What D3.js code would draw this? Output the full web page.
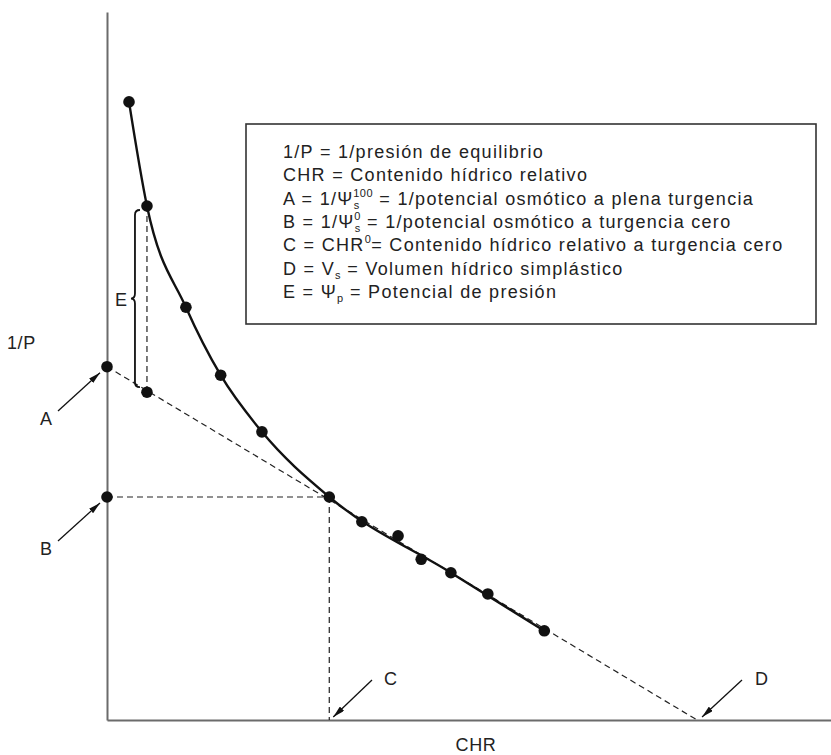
<!DOCTYPE html>
<html>
<head>
<meta charset="utf-8">
<script src="https://cdn.jsdelivr.net/npm/d3@7"></script>
<style>
  html, body { margin: 0; padding: 0; background: #fff; }
  svg { display: block; font-family: "Liberation Sans", Arial, Helvetica, sans-serif; }
</style>
</head>
<body>
<svg id="chart" width="831" height="755"></svg>
<script>
// ---------- data (arbitrary units) ----------
const chr      = [3.04, 5.52, 10.9, 15.7, 21.4, 30.7, 35.2, 40.2, 43.4, 47.5, 52.6, 60.4];
const invP     = [87.3, 72.6, 58.3, 48.7, 40.7, 31.5, 28.0, 26.0, 22.7, 20.8, 17.8, 12.6];
// fitted solid curve
const fitCHR   = [3.04, 5.52, 10.9, 15.7, 21.4, 30.7, 47.5, 60.4];
const fitInvP  = [87.3, 72.6, 58.3, 48.7, 40.7, 31.5, 20.8, 12.6];
// reference values
const valueA = 49.9;   // 1/Psi_s^100 (intercept on 1/P axis)
const valueB = 31.5;   // 1/Psi_s^0
const valueC = 30.7;   // CHR^0
const valueD = 81.5;   // Vs (intercept on CHR axis)
const eCHR = 5.52, eTop = 72.6, eBottom = 46.3; // pressure potential segment
const axisLabels = ["CHR", "1/P"];
const legendLines = [
  [{t: "1/P = 1/presión de equilibrio"}],
  [{t: "CHR = Contenido hídrico relativo"}],
  [{t: "A = 1/Ψ"}, {sub: "s", sup: "100"}, {t: " = 1/potencial osmótico a plena turgencia"}],
  [{t: "B = 1/Ψ"}, {sub: "s", sup: "0"}, {t: " = 1/potencial osmótico a turgencia cero"}],
  [{t: "C = CHR"}, {sup: "0"}, {t: "= Contenido hídrico relativo a turgencia cero"}],
  [{t: "D = V"}, {sub: "s"}, {t: " = Volumen hídrico simplástico"}],
  [{t: "E = Ψ"}, {sub: "p"}, {t: " = Potencial de presión"}]
];

// ---------- layout ----------
const svg = d3.select("#chart");
const x = d3.scaleLinear().domain([0, 100]).range([107, 831]);
const y = d3.scaleLinear().domain([0, 100]).range([720, 12]);

// arrow marker
svg.append("defs").append("marker")
  .attr("id", "arrow").attr("viewBox", "0 0 12 6")
  .attr("refX", 12).attr("refY", 3)
  .attr("markerWidth", 12).attr("markerHeight", 6)
  .attr("markerUnits", "userSpaceOnUse")
  .attr("orient", "auto")
  .append("path").attr("d", "M0,0 L12,3 L0,6 Z").attr("fill", "#111");

// axes (no ticks)
const gx = svg.append("g").attr("transform", `translate(0,${y(0)})`)
  .call(d3.axisBottom(x).ticks(0).tickSizeOuter(0));
const gy = svg.append("g").attr("transform", `translate(${x(0)},0)`)
  .call(d3.axisLeft(y).ticks(0).tickSizeOuter(0));
[gx, gy].forEach(g => g.select(".domain").attr("stroke", "#6b6b6b").attr("stroke-width", 2));

const dash = {stroke: "#222", "stroke-width": 1.2, "stroke-dasharray": "6,4", fill: "none"};
function dashed(x1, y1, x2, y2) {
  const l = svg.append("line")
    .attr("x1", x(x1)).attr("y1", y(y1)).attr("x2", x(x2)).attr("y2", y(y2));
  Object.entries(dash).forEach(([k, v]) => l.attr(k, v));
}
// A -> D line
dashed(0, valueA, valueD, 0);
// B horizontal, C vertical
dashed(0, valueB, valueC, valueB);
dashed(valueC, valueB, valueC, 0);
// E vertical
dashed(eCHR, eTop, eCHR, eBottom);

// fitted curve
const line = d3.line().x(d => x(d[0])).y(d => y(d[1])).curve(d3.curveMonotoneX);
svg.append("path")
  .datum(d3.zip(fitCHR, fitInvP))
  .attr("d", line)
  .attr("fill", "none").attr("stroke", "#111").attr("stroke-width", 2.4);

// points
const pts = d3.zip(chr, invP).concat([[0, valueA], [0, valueB], [eCHR, eBottom]]);
svg.append("g").selectAll("circle").data(pts).join("circle")
  .attr("cx", d => x(d[0])).attr("cy", d => y(d[1])).attr("r", 5.8)
  .attr("fill", "#111");

// brace for E
const bx = x(eCHR) - 12, bt = y(eTop) + 4, bb = y(eBottom) - 5, bm = (bt + bb) / 2;
svg.append("path")
  .attr("d", `M${bx + 5},${bt} Q${bx},${bt} ${bx},${bt + 5} L${bx},${bm - 5} Q${bx},${bm} ${bx - 4},${bm}
              Q${bx},${bm} ${bx},${bm + 5} L${bx},${bb - 5} Q${bx},${bb} ${bx + 5},${bb}`)
  .attr("fill", "none").attr("stroke", "#111").attr("stroke-width", 1.8);

// labels
const lab = {"font-size": "18px", "letter-spacing": "0.6px", fill: "#222"};
function label(t, px, py, anchor) {
  const e = svg.append("text").attr("x", px).attr("y", py).attr("text-anchor", anchor || "start").text(t);
  Object.entries(lab).forEach(([k, v]) => e.attr(k, v));
  return e;
}
function arrow(x1, y1, x2, y2) {
  svg.append("line").attr("x1", x1).attr("y1", y1).attr("x2", x2).attr("y2", y2)
    .attr("stroke", "#111").attr("stroke-width", 1.3).attr("marker-end", "url(#arrow)");
}
// A
label("A", 40, 425);
arrow(58, 411, x(0) - 7, y(valueA) + 6);
// B
label("B", 40, 555);
arrow(58, 541, x(0) - 7, y(valueB) + 6);
// C
label("C", 384, 685);
arrow(372, 680, x(valueC) + 4, y(0) - 3);
// D
label("D", 755, 685);
arrow(742, 680, x(valueD) + 5, y(0) - 3);
// E
label("E", 115, 306);
// axis titles
label(axisLabels[0], 476, 751, "middle");
label(axisLabels[1], 7, 349);

// legend box
svg.append("rect").attr("x", 246).attr("y", 124).attr("width", 570).attr("height", 200)
  .attr("fill", "#fff").attr("stroke", "#333").attr("stroke-width", 1.6);

const lg = svg.append("g").attr("font-size", "18px").attr("letter-spacing", "1.3px").attr("fill", "#222");
legendLines.forEach((parts, i) => {
  const t = lg.append("text").attr("x", 283).attr("y", 158 + i * 23.3);
  let pendingDy = 0;
  parts.forEach(p => {
    if (p.t !== undefined) {
      t.append("tspan").attr("dy", pendingDy).text(p.t);
      pendingDy = 0;
    } else {
      let dyBase = 0;
      if (p.sub) {
        const s = t.append("tspan").attr("dy", 4).attr("font-size", "11px").attr("letter-spacing", "0.5px").text(p.sub);
        dyBase = 4;
        if (p.sup) {
          const w = s.node().getComputedTextLength();
          t.append("tspan").attr("dx", -w - 0.5).attr("dy", -12).attr("font-size", "11px")
            .attr("letter-spacing", "0.5px").text(p.sup);
          dyBase = -8;
        }
      } else if (p.sup) {
        t.append("tspan").attr("dy", -8).attr("font-size", "11px").attr("letter-spacing", "0.5px").text(p.sup);
        dyBase = -8;
      }
      pendingDy = -dyBase;
    }
  });
});
</script>
</body>
</html>
